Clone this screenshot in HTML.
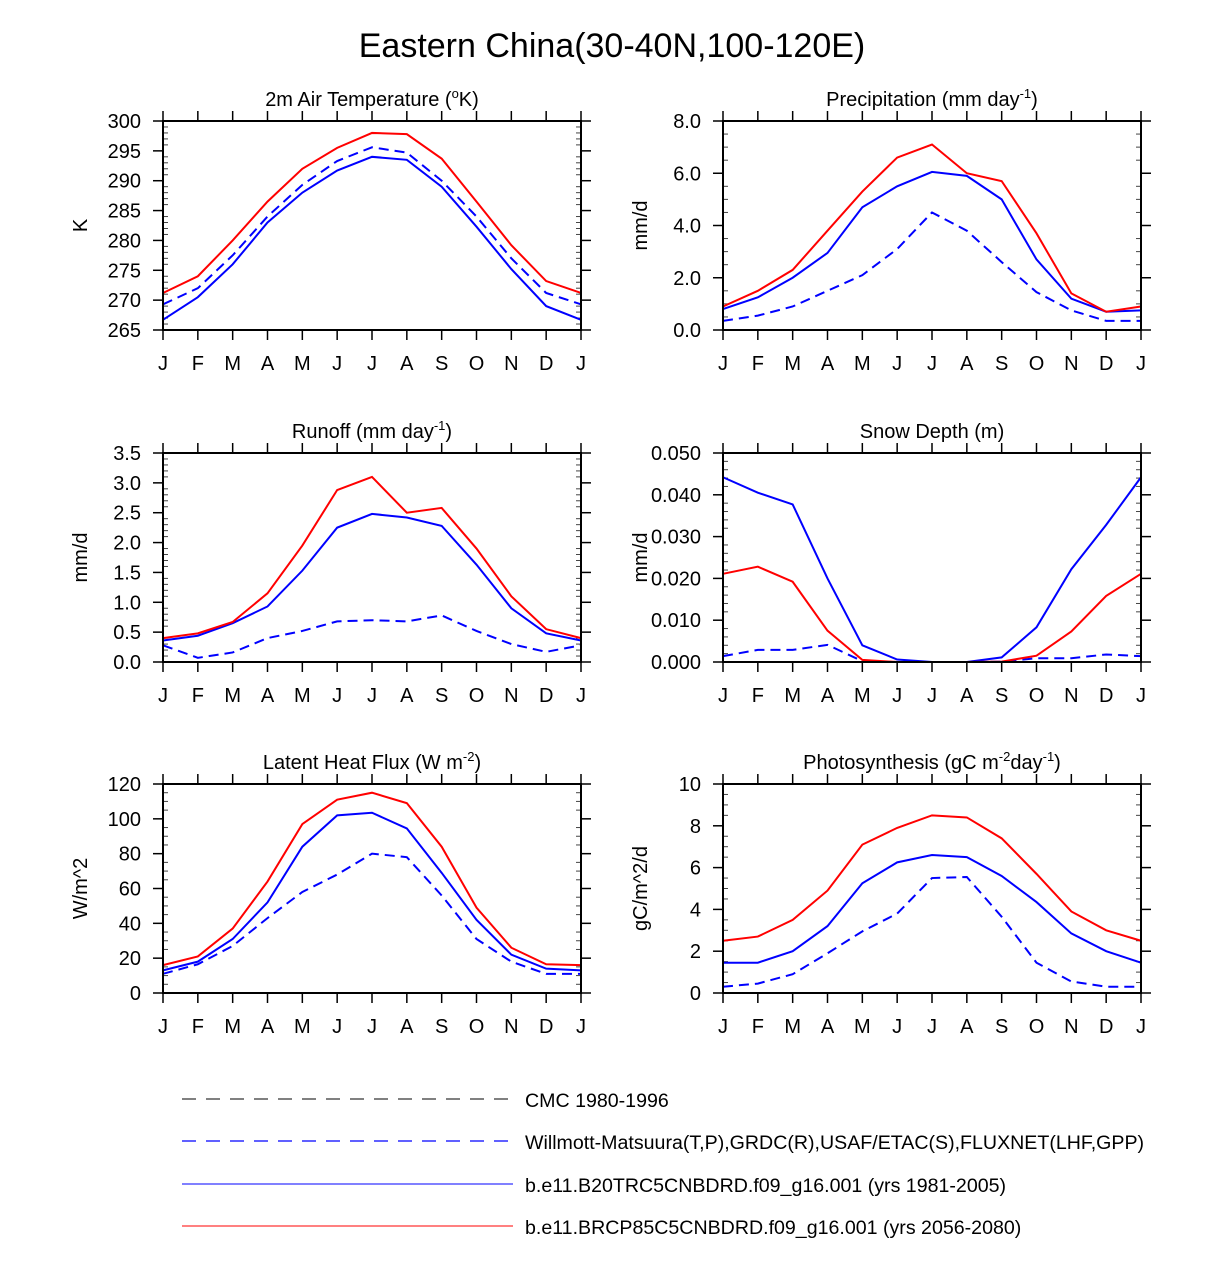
<!DOCTYPE html>
<html><head><meta charset="utf-8"><style>
body{margin:0;background:#fff;}
svg text{font-family:"Liberation Sans",Arial,sans-serif;fill:#000;}
</style></head><body>
<svg id="s" width="1224" height="1258" xmlns="http://www.w3.org/2000/svg">
<text x="612" y="57" font-size="34" text-anchor="middle">Eastern China(30-40N,100-120E)</text>
<g>
<line x1="182" y1="1099" x2="513" y2="1099" stroke="#000" stroke-width="1" stroke-dasharray="14,10"/>
<text x="525" y="1107" font-size="19.6">CMC 1980-1996</text>
<line x1="182" y1="1141" x2="513" y2="1141" stroke="#00f" stroke-width="1.2" stroke-dasharray="14,10"/>
<text x="525" y="1149" font-size="19.6">Willmott-Matsuura(T,P),GRDC(R),USAF/ETAC(S),FLUXNET(LHF,GPP)</text>
<line x1="182" y1="1184" x2="513" y2="1184" stroke="#00f" stroke-width="1"/>
<text x="525" y="1192" font-size="19.6">b.e11.B20TRC5CNBDRD.f09_g16.001 (yrs 1981-2005)</text>
<line x1="182" y1="1226" x2="513" y2="1226" stroke="#f00" stroke-width="1"/>
<text x="525" y="1234" font-size="19.6">b.e11.BRCP85C5CNBDRD.f09_g16.001 (yrs 2056-2080)</text>
</g>
</svg>
<script>
const months=["J","F","M","A","M","J","J","A","S","O","N","D","J"];
const tRed=[271.2,274,280,286.5,292,295.5,298,297.8,293.7,286.5,279.2,273.2,271.2];
const tObs=[269.3,272,277.5,284,289.3,293.3,295.6,294.7,290,284,277,271.2,269.3];
const tBlue=[266.7,270.5,276,283,288,291.7,294,293.5,289,282.3,275.2,269,266.7];
const tTicks=["265","270","275","280","285","290","295","300"];
const pRed=[0.9,1.5,2.3,3.8,5.3,6.6,7.1,6.0,5.7,3.7,1.4,0.7,0.9];
const pBlue=[0.8,1.25,2.0,2.95,4.7,5.5,6.05,5.9,5.0,2.7,1.2,0.7,0.75];
const pObs=[0.35,0.55,0.9,1.5,2.1,3.1,4.5,3.8,2.6,1.45,0.75,0.35,0.35];
const pTicks=["0.0","2.0","4.0","6.0","8.0"];
const rRed=[0.4,0.48,0.67,1.15,1.95,2.88,3.1,2.5,2.58,1.9,1.1,0.55,0.4];
const rBlue=[0.36,0.44,0.65,0.93,1.53,2.25,2.48,2.42,2.28,1.63,0.9,0.48,0.36];
const rObs=[0.28,0.07,0.16,0.4,0.52,0.68,0.7,0.68,0.78,0.52,0.3,0.17,0.28];
const rTicks=["0.0","0.5","1.0","1.5","2.0","2.5","3.0","3.5"];
const sRed=[0.0211,0.0228,0.0192,0.0075,0.0005,0,0,0,0.0001,0.0015,0.0073,0.0158,0.0211];
const sBlue=[0.0442,0.0405,0.0377,0.02,0.004,0.0006,0,0,0.0011,0.0083,0.0222,0.0328,0.0442];
const sObs=[0.0014,0.0029,0.0029,0.0041,0.0002,0,0,0,0.0001,0.0009,0.0009,0.0018,0.0014];
const sCmc=[0,0,0,0,0,0,0,0,0,0,0,0,0];
const sTicks=["0.000","0.010","0.020","0.030","0.040","0.050"];
const lRed=[16,21,37,64,97,111,115,109,84,49,26,16.5,16];
const lBlue=[13,18,31,52,84,102,103.5,94.5,69,42,22,14,13];
const lObs=[11,16.5,27,43,58,68,80,78,56,31,18,11,11];
const lTicks=["0","20","40","60","80","100","120"];
const gRed=[2.5,2.7,3.5,4.9,7.1,7.9,8.5,8.4,7.4,5.7,3.9,3.0,2.5];
const gBlue=[1.45,1.45,2.0,3.2,5.25,6.25,6.6,6.5,5.6,4.35,2.85,2.0,1.45];
const gObs=[0.3,0.45,0.9,1.9,2.95,3.8,5.5,5.55,3.65,1.45,0.55,0.3,0.3];
const gTicks=["0","2","4","6","8","10"];

const NS="http://www.w3.org/2000/svg";
const svg=document.getElementById('s');
function mk(tag,at,parent){const e=document.createElementNS(NS,tag);for(const k in at)e.setAttribute(k,at[k]);(parent||svg).appendChild(e);return e;}

function panel(o){
  const g=mk('g',{});
  
  
  const L=o.x,R=o.x+418,T=o.y,B=o.y+209;
  const ymin=parseFloat(o.ticks[0]),ymax=parseFloat(o.ticks[o.ticks.length-1]);
  const xs=i=>L+(R-L)*i/12;
  const ys=v=>B-(B-T)*(v-ymin)/(ymax-ymin);
  const t=mk('text',{x:(L+R)/2,y:T-15,'font-size':20,'text-anchor':'middle'},g);
  t.innerHTML=o.title;
  
  
  const yt=mk('text',{x:0,y:0,'font-size':20,'text-anchor':'middle',transform:`translate(${L-76},${(T+B)/2}) rotate(-90)`},g);
  yt.textContent=o.ytitle;
  
  
  months.forEach((m,i)=>{
    const x=xs(i);
    mk('line',{x1:x,y1:T,x2:x,y2:T-10,stroke:'#000','stroke-width':1.5},g);
    mk('line',{x1:x,y1:B,x2:x,y2:B+10,stroke:'#000','stroke-width':1.5},g);
    const lb=mk('text',{x:x,y:B+40,'font-size':20,'text-anchor':'middle'},g);
    lb.textContent=m;
    
    
  });
  const step=(ymax-ymin)/(o.ticks.length-1);
  const mstep=step/o.minor;
  for(let k=0;k<=(o.ticks.length-1)*o.minor;k++){
    const y=ys(ymin+k*mstep);
    if(k%o.minor===0){
      mk('line',{x1:L-10,y1:y,x2:L,y2:y,stroke:'#000','stroke-width':1.5},g);
      mk('line',{x1:R,y1:y,x2:R+10,y2:y,stroke:'#000','stroke-width':1.5},g);
    }else{
      mk('line',{x1:L,y1:y,x2:L+5,y2:y,stroke:'#444','stroke-width':1},g);
      mk('line',{x1:R-5,y1:y,x2:R,y2:y,stroke:'#444','stroke-width':1},g);
    }
  }
  o.ticks.forEach(tk=>{
    const lb=mk('text',{x:L-22,y:ys(parseFloat(tk))+7,'font-size':20,'text-anchor':'end'},g);
    lb.textContent=tk;
    
    
  });
  o.series.forEach(s=>{
    const p=mk('polyline',{points:s.d.map((v,i)=>xs(i)+','+ys(v)).join(' '),fill:'none',stroke:s.c,'stroke-width':s.w||2},g);
    if(s.dash)p.setAttribute('stroke-dasharray',s.dash);
    
    
  });
  const fr=mk('rect',{x:L,y:T,width:R-L,height:B-T,fill:'none',stroke:'#000','stroke-width':2},g);
  
  
}
const S=(r,b,o)=>[{d:o,c:'#00f',dash:'10,6',n:'obs-line'},{d:b,c:'#00f',n:'hist-line'},{d:r,c:'#f00',n:'rcp-line'}];
panel({name:'panel-temperature',x:163,y:121,title:'2m Air Temperature (<tspan font-size="13" dy="-8">o</tspan><tspan dy="8">K)</tspan>',ytitle:'K',ticks:tTicks,minor:5,series:S(tRed,tBlue,tObs)});
panel({name:'panel-precipitation',x:723,y:121,title:'Precipitation (mm day<tspan font-size="13" dy="-8">-1</tspan><tspan dy="8">)</tspan>',ytitle:'mm/d',ticks:pTicks,minor:4,series:S(pRed,pBlue,pObs)});
panel({name:'panel-runoff',x:163,y:453,title:'Runoff (mm day<tspan font-size="13" dy="-8">-1</tspan><tspan dy="8">)</tspan>',ytitle:'mm/d',ticks:rTicks,minor:5,series:S(rRed,rBlue,rObs)});
panel({name:'panel-snow-depth',x:723,y:453,title:'Snow Depth (m)',ytitle:'mm/d',ticks:sTicks,minor:5,series:[{d:sCmc,c:'#000',dash:'10,6',w:1.5,n:'cmc-line'}].concat(S(sRed,sBlue,sObs))});
panel({name:'panel-latent-heat',x:163,y:784,title:'Latent Heat Flux (W m<tspan font-size="13" dy="-8">-2</tspan><tspan dy="8">)</tspan>',ytitle:'W/m^2',ticks:lTicks,minor:4,series:S(lRed,lBlue,lObs)});
panel({name:'panel-photosynthesis',x:723,y:784,title:'Photosynthesis (gC m<tspan font-size="13" dy="-8">-2</tspan><tspan dy="8">day</tspan><tspan font-size="13" dy="-8">-1</tspan><tspan dy="8">)</tspan>',ytitle:'gC/m^2/d',ticks:gTicks,minor:4,series:S(gRed,gBlue,gObs)});
</script>
</body></html>
